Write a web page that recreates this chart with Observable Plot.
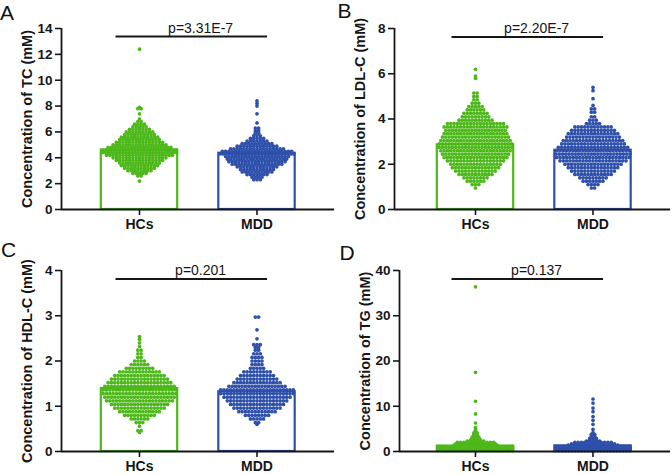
<!DOCTYPE html>
<html><head><meta charset="utf-8">
<script src="https://cdn.jsdelivr.net/npm/d3@7"></script>
<script src="https://cdn.jsdelivr.net/npm/@observablehq/plot@0.6"></script>
<style>
html,body{margin:0;padding:0;background:#fff;overflow:hidden}
#wrap{position:relative;width:672px;height:474px;overflow:hidden;font-family:"Liberation Sans",Arial,sans-serif}
.panel{position:absolute}
.letter{position:absolute;font-size:21px;line-height:21px;color:#111}
</style></head><body><div id="wrap"></div>
<script>
// ---------- data ----------
const groups = ["HCs", "MDD"];
const groupColors = ["#4DB81A", "#2E50AA"];
const panelLetters = ["A", "B", "C", "D"];
const yLabels = ["Concentration of TC (mM)", "Concentration of LDL-C (mM)", "Concentration of HDL-C (mM)", "Concentration of TG (mM)"];
const pLabels = ["p=3.31E-7", "p=2.20E-7", "p=0.201", "p=0.137"];
const yTicksTC = [0, 2, 4, 6, 8, 10, 12, 14];
const yTicksLDL = [0, 2, 4, 6, 8];
const yTicksHDL = [0, 1, 2, 3, 4];
const yTicksTG = [0, 10, 20, 30, 40];
// bar heights (group means, mM)
const meansTC = [4.6, 4.35];
const meansLDL = [2.86, 2.62];
const meansHDL = [1.39, 1.32];
const meansTG = [1.2, 1.25];
const tcHCs = [[2.2,1],[2.6,2],[2.8,5],[3.0,8],[3.2,10],[3.4,12],[3.6,13],[3.8,15],[4.0,17],[4.2,21],[4.4,26],[4.6,26],[4.8,20],[5.0,17],[5.2,15],[5.4,13],[5.6,12],[5.8,10],[6.0,9],[6.2,7],[6.4,5],[6.6,4],[6.8,2],[7.0,1],[7.4,1],[7.8,2],[7.9,1],[12.4,1]];
const tcMDD = [[2.3,3],[2.5,4],[2.7,7],[2.9,10],[3.1,11],[3.3,13],[3.5,16],[3.7,18],[3.9,19],[4.1,20],[4.3,26],[4.5,22],[4.7,17],[4.9,13],[5.1,10],[5.3,7],[5.5,5],[5.7,3],[5.9,2],[6.1,2],[6.3,2],[6.7,1],[7.4,1],[8.0,1],[8.2,1],[8.4,1]];
const ldlHCs = [[0.95,1],[1.1,3],[1.25,6],[1.4,8],[1.55,11],[1.7,13],[1.85,15],[2.0,16],[2.15,18],[2.3,20],[2.45,21],[2.6,22],[2.75,23],[2.9,23],[3.05,22],[3.2,21],[3.35,20],[3.5,19],[3.65,20],[3.8,18],[3.95,11],[4.1,9],[4.25,8],[4.4,6],[4.55,5],[4.7,3],[4.85,2],[5.0,2],[5.15,2],[5.8,1],[5.9,1],[6.2,1]];
const ldlMDD = [[0.95,2],[1.1,4],[1.25,7],[1.4,9],[1.55,12],[1.7,14],[1.85,16],[2.0,18],[2.15,21],[2.3,23],[2.45,24],[2.6,23],[2.75,22],[2.9,20],[3.05,19],[3.2,17],[3.35,16],[3.5,14],[3.65,12],[3.8,5],[3.95,3],[4.1,2],[4.3,2],[4.45,2],[4.6,1],[4.9,1],[5.25,1],[5.4,1]];
const hdlHCs = [[0.42,1],[0.46,2],[0.56,1],[0.64,3],[0.72,6],[0.80,10],[0.88,13],[0.96,16],[1.04,18],[1.12,21],[1.20,22],[1.28,23],[1.36,23],[1.44,22],[1.52,20],[1.60,18],[1.68,16],[1.76,13],[1.84,9],[1.92,6],[2.00,4],[2.08,2],[2.16,2],[2.24,2],[2.32,1],[2.40,1],[2.48,1],[2.54,1]];
const hdlMDD = [[0.60,1],[0.64,2],[0.72,5],[0.80,8],[0.88,12],[0.96,15],[1.04,17],[1.12,19],[1.20,21],[1.28,23],[1.36,23],[1.44,18],[1.52,15],[1.60,13],[1.68,11],[1.76,9],[1.84,5],[1.92,4],[2.00,4],[2.08,4],[2.16,3],[2.24,2],[2.30,2],[2.36,3],[2.49,1],[2.69,1],[2.97,2]];
const tgHCs = [[0.2,24],[0.5,26],[0.8,26],[1.1,24],[1.4,14],[1.7,13],[2.0,12],[2.3,6],[2.6,4],[2.9,3],[3.2,3],[3.5,2],[3.8,2],[4.1,2],[4.4,1],[4.7,1],[5.0,1],[5.3,1],[6.3,1],[8.3,1],[11.1,1],[17.5,1],[36.4,1]];
const tgMDD = [[0.2,24],[0.5,26],[0.8,26],[1.1,24],[1.4,16],[1.7,14],[2.0,12],[2.3,5],[2.6,3],[2.9,3],[3.2,2],[3.5,2],[3.8,2],[4.2,1],[4.9,1],[6.0,1],[6.9,1],[7.7,1],[8.8,1],[9.6,1],[10.7,1],[11.6,1]];
// significance bracket height per panel (mM) and span in category units
const pLineY = [13.38, 7.62, 3.81, 38.1];
const bracketSpan = [-0.2, 1.09];
const pTextX = 0.52;

// ---------- layout ----------
const W = 336, H = 237, MT = 28, MB = 28, MR = 2;
const TICK0_PX = 139, STEP_PX = 117.5;
const BAR_HALF = 0.325;
const DOT_R = 1.85, DOT_STEP = 3.3, MAX_SPAN = 74;
const INK = "#161616";

const panels = [
  {left: 0,   top: 0,   ml: 61, yMax: 14, ticks: yTicksTC,  means: meansTC,  bins: [tcHCs, tcMDD],   letterPos: [0, 2]},
  {left: 336, top: 0,   ml: 58, yMax: 8,  ticks: yTicksLDL, means: meansLDL, bins: [ldlHCs, ldlMDD], letterPos: [337.5, 0]},
  {left: 0,   top: 242, ml: 61, yMax: 4,  ticks: yTicksHDL, means: meansHDL, bins: [hdlHCs, hdlMDD], letterPos: [1, 239]},
  {left: 336, top: 242, ml: 63, yMax: 40, ticks: yTicksTG,  means: meansTG,  bins: [tgHCs, tgMDD],   letterPos: [339.5, 242]}
];

function swarm(bins, gi, pxPerUnit) {
  const pts = [];
  for (const [v, n] of bins) {
    const s = n > 1 ? Math.min(DOT_STEP, MAX_SPAN / (n - 1)) : 0;
    for (let k = 0; k < n; k++) {
      pts.push({group: groups[gi], value: v, x: gi + ((k - (n - 1) / 2) * s) / pxPerUnit});
    }
  }
  return pts;
}

const wrap = document.getElementById("wrap");
panels.forEach((p, pi) => {
  const xDomain = [(p.ml - TICK0_PX) / STEP_PX, 1 + (W - MR - TICK0_PX - STEP_PX) / STEP_PX];
  const pxPerUnit = (W - p.ml - MR) / (xDomain[1] - xDomain[0]);
  const points = swarm(p.bins[0], 0, pxPerUnit).concat(swarm(p.bins[1], 1, pxPerUnit));
  const bars = groups.map((g, i) => ({group: g, i, mean: p.means[i]}));
  const chart = Plot.plot({
    width: W, height: H,
    marginLeft: p.ml, marginRight: MR, marginTop: MT, marginBottom: MB,
    style: {fontFamily: "'Liberation Sans', Arial, sans-serif", fontSize: "13px", fontWeight: "bold", color: INK, background: "transparent", overflow: "visible"},
    x: {domain: xDomain},
    y: {domain: [0, p.yMax]},
    color: {domain: groups, range: groupColors},
    marks: [
      Plot.rect(bars, {x1: d => d.i - BAR_HALF, x2: d => d.i + BAR_HALF, y1: 0, y2: "mean", fill: "white", stroke: "group", strokeWidth: 2.2}),
      Plot.dot(points, {x: "x", y: "value", r: DOT_R, fill: "group"}),
      Plot.ruleX([xDomain[0]], {stroke: INK, strokeWidth: 1.8}),
      Plot.ruleY([0], {stroke: INK, strokeWidth: 1.8}),
      Plot.axisY(p.ticks, {tickSize: 6, tickPadding: 3, strokeWidth: 1.6, label: null, fontSize: 13.5}),
      Plot.axisX([0, 1], {tickSize: 6, tickPadding: 4, strokeWidth: 1.6, tickFormat: i => groups[i], label: null, fontSize: 14}),
      Plot.text([yLabels[pi]], {text: d => d, frameAnchor: "left", textAnchor: "middle", rotate: -90, dx: -29.5, lineAnchor: "bottom", fontSize: 14.5, fontWeight: "bold", fill: INK}),
      Plot.ruleY([pLineY[pi]], {x1: bracketSpan[0], x2: bracketSpan[1], stroke: INK, strokeWidth: 2}),
      Plot.text([pLabels[pi]], {text: d => d, x: pTextX, y: pLineY[pi], dy: -4, lineAnchor: "bottom", fontSize: 14, fontWeight: "normal", fill: INK})
    ]
  });
  const div = document.createElement("div");
  div.className = "panel";
  div.style.left = p.left + "px";
  div.style.top = p.top + "px";
  div.appendChild(chart);
  wrap.appendChild(div);
  const letter = document.createElement("div");
  letter.className = "letter";
  letter.textContent = panelLetters[pi];
  letter.style.left = p.letterPos[0] + "px";
  letter.style.top = p.letterPos[1] + "px";
  wrap.appendChild(letter);
});
</script>
</body></html>
